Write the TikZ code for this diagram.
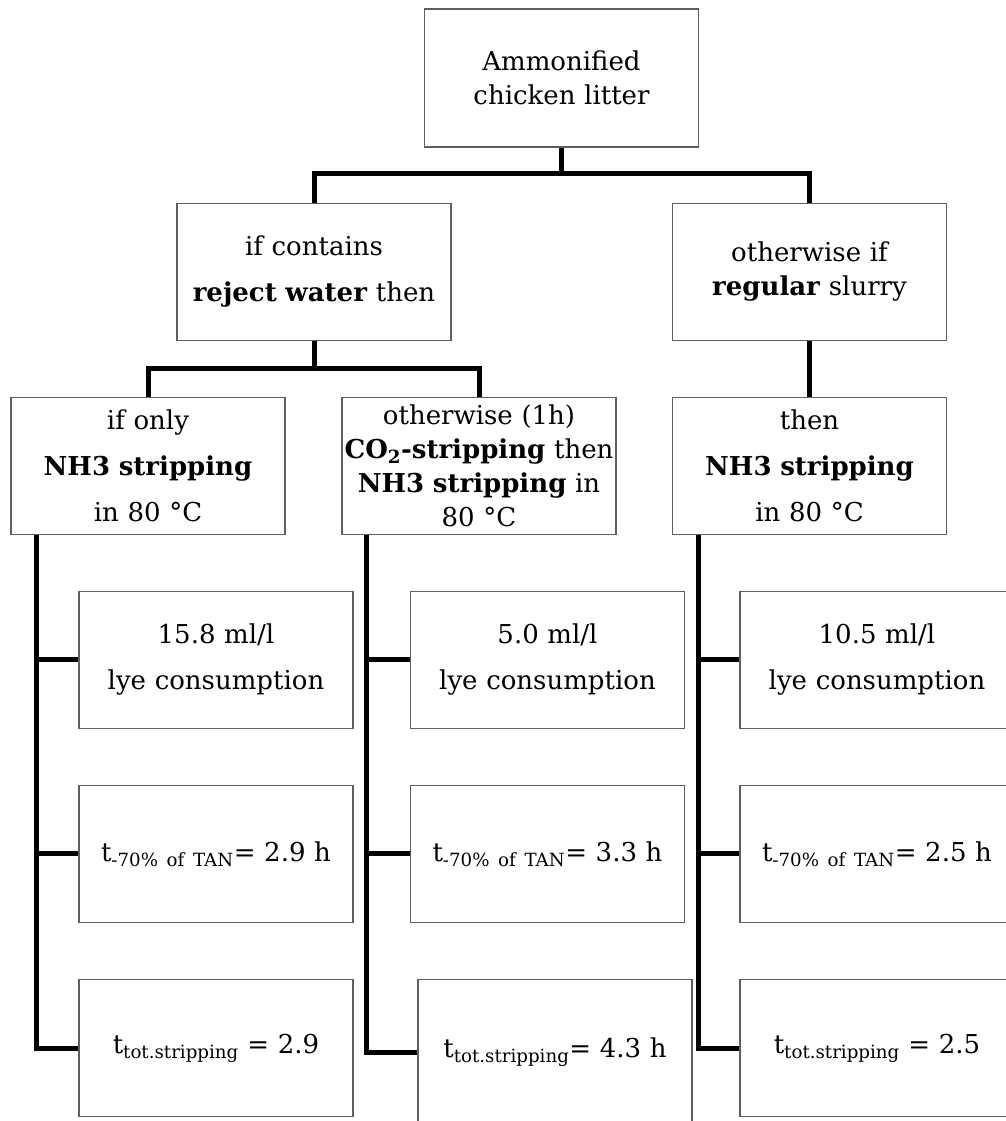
\documentclass[tikz,border=0pt]{standalone}
\usepackage{fontspec}
\setmainfont{DejaVu Serif}
\usetikzlibrary{positioning}
\definecolor{boxline}{RGB}{95,95,95}

\begin{document}
\begin{tikzpicture}[x=1pt, y=1pt,
    node distance=56pt,
    block/.style={rectangle, draw=boxline, line width=1.1pt, fill=white,
                  text width=272pt, inner xsep=1pt, inner ysep=0pt, align=center,
                  minimum height=137pt, font=\fontsize{26}{34}\selectfont},
    loose/.style={block, font=\fontsize{26}{46}\selectfont},
    link/.style={line width=5pt}]
\useasboundingbox (0,0) rectangle (1005,-1121);

% top of the tree
\node[block, minimum height=138pt] (litter) at (561.5,-78) {Ammonified\\chicken litter};
\node[loose, below=55pt of litter, xshift=-247.5pt] (rejw) {if contains\\\textbf{reject water} then};
\node[block, below=55pt of litter, xshift=248pt] (regular) {otherwise if\\\textbf{regular} slurry};

% stripping variants
\node[loose, below=of rejw, xshift=-166pt] (onlynh) {if only\\\textbf{NH3 stripping}\\in 80 °C};
\node[block, below=of rejw, xshift=165pt] (costrip) {otherwise (1h)\\\textbf{CO\textsubscript{2}-stripping} then\\\textbf{NH3 stripping} in\\80 °C};
\node[loose, below=of regular] (thennh) {then\\\textbf{NH3 stripping}\\in 80 °C};

% results, column A
\node[loose, below=of onlynh, xshift=68pt] (lyeA) {15.8 ml/l\\lye consumption};
\node[block, below=of lyeA] (tanA) {t\textsubscript{-70\% of TAN}= 2.9 h};
\node[block, below=of tanA] (totA) {t\textsubscript{tot.stripping} = 2.9};

% results, column B
\node[loose, below=of costrip, xshift=68.5pt] (lyeB) {5.0 ml/l\\lye consumption};
\node[block, below=of lyeB] (tanB) {t\textsubscript{-70\% of TAN}= 3.3 h};
\node[block, below=of tanB, xshift=7.5pt, minimum height=146pt] (totB) {t\textsubscript{tot.stripping}= 4.3 h};

% results, column C
\node[loose, below=of thennh, xshift=67.5pt] (lyeC) {10.5 ml/l\\lye consumption};
\node[block, below=of lyeC] (tanC) {t\textsubscript{-70\% of TAN}= 2.5 h};
\node[block, below=of tanC] (totC) {t\textsubscript{tot.stripping} = 2.5};

% forks
\draw[link] (litter.south) -- ++(0,-26) coordinate (forkA);
\draw[link] (rejw.north) |- (forkA) -| (regular.north);
\draw[link] (rejw.south) -- ++(0,-27.5) coordinate (forkB);
\draw[link] (onlynh.north) |- (forkB) -| (costrip.north);
\draw[link] (regular) -- (thennh);

% side stems
\draw[link] ([xshift=26pt]onlynh.south west) |- (totA.west);
\draw[link] ([xshift=26pt]onlynh.south west) |- (lyeA.west);
\draw[link] ([xshift=26pt]onlynh.south west) |- (tanA.west);
\draw[link] ([xshift=25pt]costrip.south west) |- (totB.west);
\draw[link] ([xshift=25pt]costrip.south west) |- (lyeB.west);
\draw[link] ([xshift=25pt]costrip.south west) |- (tanB.west);
\draw[link] ([xshift=27pt]thennh.south west) |- (totC.west);
\draw[link] ([xshift=27pt]thennh.south west) |- (lyeC.west);
\draw[link] ([xshift=27pt]thennh.south west) |- (tanC.west);
\end{tikzpicture}
\end{document}
